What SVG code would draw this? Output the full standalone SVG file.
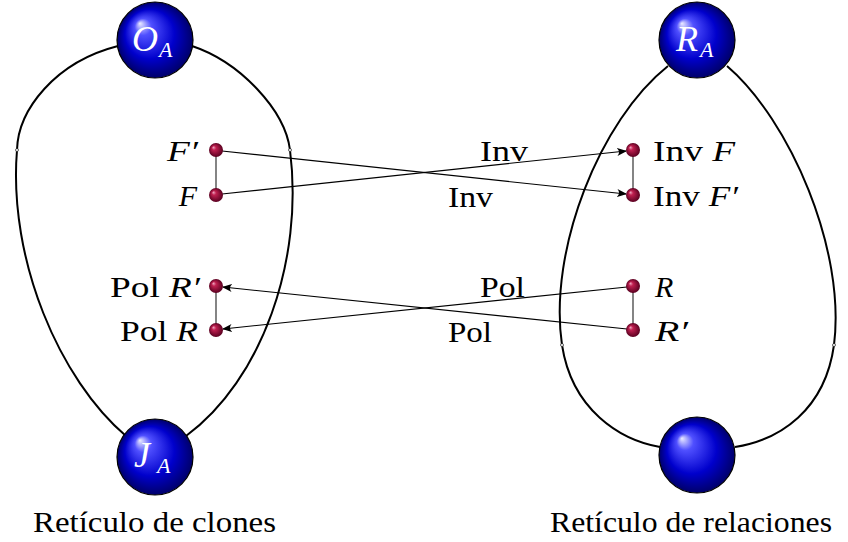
<svg xmlns="http://www.w3.org/2000/svg" width="848" height="542" viewBox="0 0 848 542">
<defs>
<radialGradient id="ball" cx="0.5" cy="0.5" r="0.5" fx="0.3" fy="0.28">
<stop offset="0" stop-color="#ececff"/>
<stop offset="0.22" stop-color="#5050ff"/>
<stop offset="0.65" stop-color="#0000cc"/>
<stop offset="1" stop-color="#00006a"/>
</radialGradient>
<radialGradient id="dot" cx="0.5" cy="0.5" r="0.5" fx="0.3" fy="0.3">
<stop offset="0" stop-color="#f0b0c8"/>
<stop offset="0.3" stop-color="#c02050"/>
<stop offset="1" stop-color="#5a0020"/>
</radialGradient>
<marker id="arr" viewBox="0 0 10 10" refX="9" refY="5" markerWidth="10" markerHeight="10" markerUnits="userSpaceOnUse" orient="auto">
<path d="M0,1 Q4,5 0,9 L10,5 Z" fill="#000"/>
</marker>
</defs>
<style>
.curve{fill:none;stroke:#000;stroke-width:2}
.big{fill:url(#ball);stroke:#000;stroke-width:1.2}
.small{fill:url(#dot)}
.link{stroke:#333;stroke-width:1.2}
.arrow{stroke:#000;stroke-width:1.1;fill:none;marker-end:url(#arr)}
.mark{fill:#fff;stroke:#000;stroke-width:0.6}
text{font-family:"Liberation Serif","DejaVu Serif",serif;font-size:30px;fill:#000}
.it{font-style:italic}
.w{fill:#fff}
.bl{font-size:36px}
.sb{font-size:22px}
</style>
<g id="connectors">
<path class="curve" d="M118,46 C55,62 18,110 17,150 C8,260 60,380 126,436"/>
<path class="curve" d="M192,46 C240,62 285,110 290,150 C304,260 262,380 186,436"/>
<path class="curve" d="M668,66 C600,120 548,250 562,345 C572,410 620,440 660,447"/>
<path class="curve" d="M727,66 C790,120 846,250 834,345 C825,410 780,440 735,447"/>
<circle class="mark" cx="17" cy="150" r="1.5"/>
<circle class="mark" cx="290" cy="150" r="1.5"/>
<circle class="mark" cx="562" cy="345" r="1.5"/>
<circle class="mark" cx="834" cy="345" r="1.5"/>
<line class="link" x1="216" y1="150" x2="216" y2="195"/>
<line class="link" x1="216" y1="286" x2="216" y2="330"/>
<line class="link" x1="633" y1="150" x2="633" y2="195"/>
<line class="link" x1="633" y1="286" x2="633" y2="330"/>
<line class="arrow" x1="222" y1="151" x2="626" y2="194"/>
<line class="arrow" x1="222" y1="194" x2="626" y2="151"/>
<line class="arrow" x1="627" y1="287" x2="223" y2="329"/>
<line class="arrow" x1="627" y1="329" x2="223" y2="287"/>
<text x="480" y="161" textLength="48" lengthAdjust="spacingAndGlyphs">Inv</text>
<text x="448" y="207" textLength="45" lengthAdjust="spacingAndGlyphs">Inv</text>
<text x="480" y="297" textLength="45" lengthAdjust="spacingAndGlyphs">Pol</text>
<text x="448" y="342" textLength="44" lengthAdjust="spacingAndGlyphs">Pol</text>
</g>
<g id="OA">
<circle class="big" cx="155" cy="40" r="38"/>
<text class="w it bl" x="132" y="51">O</text><text class="w it sb" x="159" y="57">A</text>
</g>
<g id="JA">
<circle class="big" cx="155" cy="457" r="38"/>
<text class="w it bl" x="134" y="467">J</text><text class="w it sb" x="157" y="473">A</text>
</g>
<g id="RA">
<circle class="big" cx="697" cy="40" r="38"/>
<text class="w it bl" x="676" y="51">R</text><text class="w it sb" x="700" y="57">A</text>
</g>
<g id="bottomR">
<circle class="big" cx="697" cy="455" r="38"/>
</g>
<g id="Fp"><circle class="small" cx="216" cy="150" r="7"/><text class="it" x="198" y="161" text-anchor="end" textLength="31" lengthAdjust="spacingAndGlyphs">F′</text></g>
<g id="F"><circle class="small" cx="216" cy="195" r="7"/><text class="it" x="197" y="206" text-anchor="end">F</text></g>
<g id="PolRp"><circle class="small" cx="216" cy="286" r="7"/><text x="200" y="297" text-anchor="end" textLength="90" lengthAdjust="spacingAndGlyphs">Pol <tspan class="it">R′</tspan></text></g>
<g id="PolR"><circle class="small" cx="216" cy="330" r="7"/><text x="198" y="341" text-anchor="end" textLength="78" lengthAdjust="spacingAndGlyphs">Pol <tspan class="it">R</tspan></text></g>
<g id="InvF"><circle class="small" cx="633" cy="150" r="7"/><text x="653" y="161" textLength="82" lengthAdjust="spacingAndGlyphs">Inv <tspan class="it">F</tspan></text></g>
<g id="InvFp"><circle class="small" cx="633" cy="195" r="7"/><text x="653" y="206" textLength="85" lengthAdjust="spacingAndGlyphs">Inv <tspan class="it">F′</tspan></text></g>
<g id="R"><circle class="small" cx="633" cy="286" r="7"/><text class="it" x="655" y="297">R</text></g>
<g id="Rp"><circle class="small" cx="633" cy="330" r="7"/><text class="it" x="655" y="341" textLength="33" lengthAdjust="spacingAndGlyphs">R′</text></g>
<text x="33" y="532" textLength="243" lengthAdjust="spacingAndGlyphs">Retículo de clones</text>
<text x="550" y="532" textLength="282" lengthAdjust="spacingAndGlyphs">Retículo de relaciones</text>
</svg>
